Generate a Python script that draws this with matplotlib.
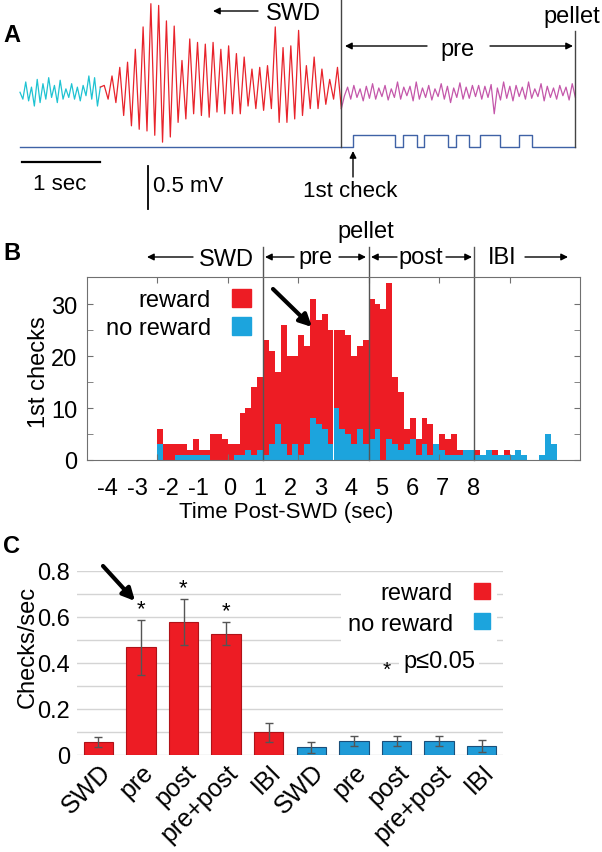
import numpy as np
import matplotlib.pyplot as plt
from matplotlib.patches import Patch, FancyArrowPatch

plt.rcParams['font.family'] = ['Liberation Sans', 'DejaVu Sans']
plt.rcParams['font.size'] = 16
plt.rcParams['axes.unicode_minus'] = False

RED = '#ed1c24'
BLUE = '#1ca4dd'
GREY = '#707070'

# ---------------- panel A: example trace, extrema (mV)
cyan_mv = [0.02, -0.06, 0.14, -0.08, 0.08, -0.14, 0.17, -0.10, 0.12, -0.06, 0.19, -0.04, 0.10, -0.10,
           0.16, -0.06, 0.06, -0.04, 0.12, -0.06, 0.08, -0.08, 0.10, -0.02, 0.21, -0.06, 0.19, -0.14, 0.08]
swd_peaks = [0.10, 0.21, 0.31, 0.37, 0.52, 0.78, 1.05, 1.03, 0.85, 0.79, 0.39, 0.64, 0.60, 0.58, 0.60, 0.52,
             0.56, 0.47, 0.43, 0.29, 0.31, 0.33, 0.78, 0.54, 0.56, 0.74, 0.33, 0.43, 0.29, 0.17, 0.31]
swd_troughs = [-0.06, -0.10, -0.25, -0.37, -0.41, -0.43, -0.48, -0.56, -0.50, -0.33, -0.29, -0.23, -0.25,
               -0.27, -0.21, -0.23, -0.23, -0.23, -0.14, -0.17, -0.19, -0.17, -0.33, -0.33, -0.29, -0.25,
               -0.17, -0.17, -0.12, -0.06, -0.17]
pre_mv = [-0.02, 0.08, -0.06, 0.10, -0.04, 0.06, -0.08, 0.09, -0.05, 0.12, -0.06, 0.07, -0.03, 0.10, -0.07,
          0.06, -0.04, 0.14, -0.06, 0.08, -0.02, 0.09, -0.08, 0.14, -0.06, 0.07, -0.04, 0.10, -0.07, 0.06,
          -0.03, 0.12, -0.06, 0.09, -0.10, 0.07, -0.04, 0.13, -0.06, 0.08, -0.05, 0.10, -0.03, 0.10, -0.06,
          0.09, -0.04, 0.11, -0.23, 0.07, -0.07, 0.14, -0.05, 0.09, -0.08, 0.10, -0.03, 0.08, -0.06, 0.14,
          -0.05, 0.06, -0.03, 0.12, -0.08, 0.09, -0.04, 0.07, -0.06, 0.10, -0.02, 0.08, -0.07, 0.12, -0.04]
t_swd_start, t_swd_end, t_pellet = 1.03, 4.12, 7.12
check_times = [0.0, 4.27, 4.81, 4.91, 5.09, 5.18, 5.49, 5.59, 5.76, 5.90, 6.16, 6.40, 6.57, 7.12]
check_state = [0, 1, 0, 1, 0, 1, 0, 1, 0, 1, 0, 1, 0, 0]

# ---------------- panel B: histogram of 1st checks, bins of 1/6 s from -3 s
bin_start, bin_width = -3.0, 1 / 6
reward_counts = [6, 3, 3, 3, 3, 2, 4, 2, 2, 5, 5, 4, 3, 3, 9, 10, 14, 16,
                 23, 21, 17, 26, 20, 20, 24, 22, 31, 27, 28, 25, 25, 25, 24, 20, 22, 23,
                 31, 30, 29, 34, 16, 13, 6, 8, 4, 8, 7, 2, 5, 4, 5, 2, 2, 2,
                 2, 1, 1, 2, 1, 2, 0, 0, 0, 0, 0, 0, 0, 0]
noreward_counts = [3, 0, 0, 1, 1, 1, 1, 1, 1, 0, 0, 0, 0, 1, 1, 2, 1, 2,
                   1, 3, 7, 3, 1, 3, 1, 3, 8, 7, 6, 3, 10, 6, 5, 3, 6, 3,
                   4, 6, 0, 4, 3, 2, 3, 4, 1, 3, 1, 3, 2, 1, 1, 1, 2, 2,
                   1, 1, 2, 1, 1, 1, 1, 2, 1, 0, 0, 1, 5, 3]
epoch_lines = [0, 3, 6]

# ---------------- panel C: checks/sec per epoch
categories = ['SWD', 'pre', 'post', 'pre+post', 'IBI', 'SWD', 'pre', 'post', 'pre+post', 'IBI']
rates = [0.054, 0.467, 0.575, 0.525, 0.097, 0.032, 0.061, 0.058, 0.058, 0.036]
rate_err = [0.022, 0.12, 0.10, 0.05, 0.041, 0.025, 0.022, 0.022, 0.022, 0.026]
rewarded = [True] * 5 + [False] * 5
significant = [False, True, True, True, False, False, False, False, False, False]

W, H = 602, 853
fig = plt.figure(figsize=(W / 100, H / 100), dpi=100)


def fp(px, py):
    return px / W, 1 - py / H


def arrow(x0, y0, x1, y1, lw=1.0, ms=10):
    fig.add_artist(FancyArrowPatch(fp(x0, y0), fp(x1, y1), transform=fig.transFigure,
                                   arrowstyle='-|>', mutation_scale=ms, lw=lw, color='black',
                                   shrinkA=0, shrinkB=0))


def ftext(px, py, s, **kw):
    fig.text(*fp(px, py), s, **kw)


# ======================= A
axA = fig.add_axes([0, 1 - 212 / H, 1, 212 / H])
axA.set_xlim(-20 / 78, 582 / 78)
axA.set_ylim((95 - 212) / 86, 95 / 86)
axA.axis('off')

t_cyan = np.linspace(0, t_swd_start, len(cyan_mv))
swd_mv = np.column_stack([swd_peaks, swd_troughs]).ravel()
t_swd = np.linspace(t_swd_start, t_swd_end, len(swd_mv) + 1)[1:]
t_pre = np.linspace(t_swd_end, t_pellet, len(pre_mv) + 1)[1:]
axA.plot(t_cyan, cyan_mv, color='#1fc3d2', lw=0.9)
axA.plot(np.r_[t_cyan[-1], t_swd], np.r_[cyan_mv[-1], swd_mv], color='#e8232b', lw=0.9)
axA.plot(np.r_[t_swd[-1], t_pre], np.r_[swd_mv[-1], pre_mv], color='#c457aa', lw=0.9)

LOW, HIGH = (95 - 148) / 86, (95 - 136) / 86
levels = [HIGH if s else LOW for s in check_state]
axA.step(check_times, levels, where='post', color='#3f62a6', lw=1.0)
axA.plot([t_swd_end, t_swd_end], [LOW, 95 / 86], color='#444444', lw=1.0)
axA.plot([t_pellet, t_pellet], [LOW, (95 - 32) / 86], color='#444444', lw=1.0)

# scale bars
axA.plot([0.026, 1.026], [(95 - 163) / 86] * 2, color='black', lw=1.6)
axA.plot([1.64, 1.64], [(95 - 167) / 86, (95 - 167) / 86 - 0.5], color='black', lw=1.3)
ftext(60, 184, '1 sec', ha='center', va='center', fontsize=16)
ftext(153, 186, '0.5 mV', ha='left', va='center', fontsize=16)
ftext(350, 192, '1st check', ha='center', va='center', fontsize=16)
arrow(353, 178, 353, 152, lw=1.0, ms=10)

ftext(12, 35, 'A', ha='center', va='center', fontsize=17, fontweight='bold')
ftext(293, 14, 'SWD', ha='center', va='center', fontsize=17)
arrow(258, 12, 213, 12, lw=1.0, ms=10)
ftext(458, 50, 'pre', ha='center', va='center', fontsize=17)
arrow(427, 47, 345, 47, lw=1.0, ms=10)
arrow(490, 47, 573, 47, lw=1.0, ms=10)
ftext(572, 17, 'pellet', ha='center', va='center', fontsize=17)

# ======================= B
axB = fig.add_axes([87 / W, 1 - 461 / H, 493 / W, 183 / H])
lefts = bin_start + bin_width * np.arange(len(reward_counts))
axB.bar(lefts, reward_counts, width=bin_width, align='edge', color=RED, lw=0)
axB.bar(lefts, noreward_counts, width=bin_width, align='edge', color=BLUE, lw=0)
axB.set_xlim(-5, 9)
axB.set_ylim(0, 35.2)
for x in epoch_lines:
    axB.axvline(x, ymin=0, ymax=(461 - 248) / 183, color='#555555', lw=1.0, clip_on=False)
for sp in axB.spines.values():
    sp.set_color(GREY)
axB.set_xticks([-3, -1, 1, 3, 5, 7])
axB.set_xticklabels([])
axB.set_yticks([0, 10, 20, 30])
axB.set_yticks([5, 15, 25], minor=True)
axB.tick_params(axis='both', which='both', direction='in', top=True, right=True,
                length=4, color=GREY, labelsize=17)
axB.tick_params(axis='y', pad=7)

sec = axB.secondary_xaxis('bottom', functions=(lambda d: 1.1546 * d + 1.108,
                                               lambda L: (L - 1.108) / 1.1546))
sec.set_xticks(range(-4, 9))
sec.tick_params(length=0, labelsize=17, pad=12)
sec.spines['bottom'].set_visible(False)

ftext(39, 372, '1st checks', ha='center', va='center', rotation=90, fontsize=17)
ftext(286, 513, 'Time Post-SWD (sec)', ha='center', va='center', fontsize=16)
axB.legend(handles=[Patch(color=RED, label='reward'), Patch(color=BLUE, label='no reward')],
           loc='upper right', bbox_to_anchor=(0.333, 0.935), frameon=False, markerfirst=False,
           handlelength=0.8, handleheight=0.8, fontsize=17, labelspacing=0.25,
           handletextpad=0.9, borderaxespad=0, borderpad=0)
arrow(273, 290, 312, 328, lw=3, ms=18)

ftext(12, 253, 'B', ha='center', va='center', fontsize=17, fontweight='bold')
ftext(226, 260, 'SWD', ha='center', va='center', fontsize=17)
arrow(193, 258, 147, 258)
ftext(316, 258, 'pre', ha='center', va='center', fontsize=17)
arrow(294, 258, 265, 258)
arrow(339, 258, 366, 258)
ftext(366, 232, 'pellet', ha='center', va='center', fontsize=17)
ftext(421, 258, 'post', ha='center', va='center', fontsize=17)
arrow(397, 258, 371, 258)
arrow(446, 258, 472, 258)
ftext(502, 258, 'IBI', ha='center', va='center', fontsize=17)
arrow(525, 258, 568, 258)

# ======================= C
axC = fig.add_axes([77 / W, 1 - 755.7 / H, 426 / W, 184 / H])
xpos = np.arange(len(categories))
colors = [RED if r else '#1f9bd7' for r in rewarded]
edges = ['#b01218' if r else '#1a4f7a' for r in rewarded]
axC.bar(xpos, rates, width=0.69, color=colors, edgecolor=edges, lw=0.8, zorder=3,
        yerr=rate_err, error_kw=dict(ecolor='#555555', capsize=3, lw=1.0, capthick=1.0, zorder=4))
axC.set_xlim(-0.5, 9.5)
axC.set_ylim(0, 0.8)
axC.set_yticks([0, 0.2, 0.4, 0.6, 0.8])
axC.set_yticklabels(['0', '0.2', '0.4', '0.6', '0.8'])
axC.set_yticks(np.arange(0.1, 0.8, 0.2), minor=True)
axC.grid(axis='y', which='both', color='#d4d4d4', lw=1.0, zorder=0)
axC.set_axisbelow(True)
for sp in axC.spines.values():
    sp.set_visible(False)
axC.tick_params(axis='both', which='both', length=0, labelsize=17)
axC.tick_params(axis='y', pad=5)
axC.set_xticks(xpos)
axC.set_xticklabels(categories, rotation=45, ha='right', rotation_mode='anchor', fontsize=18)
for x, r, e, s in zip(xpos, rates, rate_err, significant):
    if s:
        axC.text(x, r + e + 0.05, '*', ha='center', va='center', fontsize=16)

leg = axC.legend(handles=[Patch(color=RED, label='reward'), Patch(color=BLUE, label='no reward')],
                 loc='upper right', bbox_to_anchor=(0.985, 0.975), frameon=True, markerfirst=False,
                 handlelength=0.65, handleheight=0.65, fontsize=17, labelspacing=0.35,
                 handletextpad=0.9, borderaxespad=0, borderpad=0.3, fancybox=False)
leg.get_frame().set_facecolor('white')
leg.get_frame().set_edgecolor('none')
leg.get_frame().set_alpha(1)
ftext(387, 670, '*', ha='center', va='center', fontsize=15)
ftext(403, 662, 'p≤0.05', ha='left', va='center', fontsize=17,
      bbox=dict(facecolor='white', edgecolor='none', pad=3))
arrow(103, 567, 135, 602, lw=3, ms=18)
ftext(11, 547, 'C', ha='center', va='center', fontsize=17, fontweight='bold')
ftext(28, 647, 'Checks/sec', ha='center', va='center', rotation=90, fontsize=17)

fig.savefig('out.png', dpi=100)
